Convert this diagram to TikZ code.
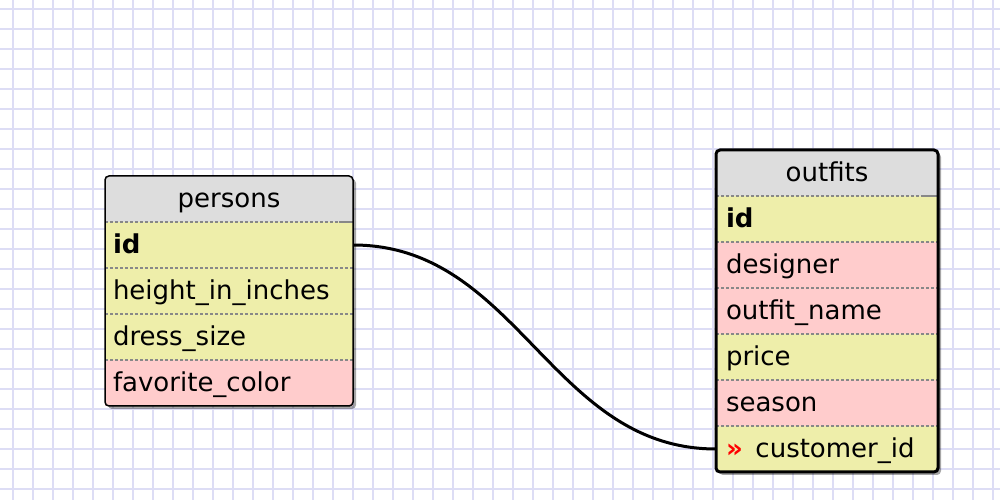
\documentclass[tikz,border=0pt]{standalone}
\usepackage{fontspec}
\newfontfamily\erfont{DejaVu Sans}
\usetikzlibrary{positioning,fit,backgrounds,shadows}
\definecolor{erGrid}{RGB}{221,221,245}
\definecolor{erHead}{RGB}{221,221,221}
\definecolor{erYellow}{RGB}{238,238,170}
\definecolor{erPink}{RGB}{255,204,204}
\definecolor{erSep}{RGB}{136,136,136}
\tikzset{
  er/row/.style={rectangle, inner xsep=8pt, inner ysep=0pt, outer sep=0pt,
                 minimum height=46pt, text height=24pt, text depth=6pt,
                 align=left, font=\erfont\fontsize{26}{30}\selectfont},
  er/head/.style={er/row, fill=erHead, align=center},
  er/yellow/.style={er/row, fill=erYellow},
  er/pink/.style={er/row, fill=erPink},
  er/sep/.style={draw=erSep, line width=2pt, dash pattern=on 2.5pt off 2.5pt},
  er/stub/.style={draw=erSep, line width=2pt},
  er/frame/.style={draw=black, rounded corners=4pt, inner sep=0pt},
  er/shade/.style={er/frame, draw=none, fill=white,
                   drop shadow={shadow xshift=3pt, shadow yshift=-3pt,
                                opacity=0.35, fill=black}},
  er/grid/.style={draw=erGrid, line width=1.5pt},
  er/link/.style={line width=3pt, draw=black},
}

\begin{document}
\begin{tikzpicture}[x=1pt, y=1pt]
  \useasboundingbox (0,0) rectangle (1000,500);

  % ---------------- background grid ----------------
  \begin{scope}[on background layer]
    \fill[white] (0,0) rectangle (1000,500);
    \foreach \x in {13,33,...,993}
      \draw[er/grid] (\x,0) -- (\x,500);
    \foreach \y in {11,31,...,491}
      \draw[er/grid] (0,\y) -- (1000,\y);
  \end{scope}

  % ---------------- persons table ----------------
  \begin{scope}[er/row/.append style={text width=232pt}]
    \node[er/head, anchor=north west] (persons) at (105,324) {persons};
    \node[er/yellow, below=0pt of persons] (persons-id) {\textbf{id}};
    \node[er/yellow, below=0pt of persons-id] (persons-height) {height\_in\_inches};
    \node[er/yellow, below=0pt of persons-height] (persons-dress) {dress\_size};
    \node[er/pink, below=0pt of persons-dress] (persons-color) {favorite\_color};
  \end{scope}
  \foreach \r in {persons,persons-id,persons-height,persons-dress}
    \draw[er/sep] (\r.south west) -- (\r.south east);
  \draw[er/stub] ([xshift=-14pt]persons.south east) -- (persons.south east);
  \begin{scope}[on background layer]
    \node[er/shade, fit=(persons)(persons-color)] {};
  \end{scope}
  \node[er/frame, line width=1.5pt, fit=(persons)(persons-color)] (persons-box) {};

  % ---------------- outfits table ----------------
  \begin{scope}[er/row/.append style={text width=202pt, inner xsep=10pt}]
    \node[er/head, anchor=north west] (outfits) at (716,350) {outfits};
    \node[er/yellow, below=0pt of outfits] (outfits-id) {\textbf{id}};
    \node[er/pink, below=0pt of outfits-id] (outfits-designer) {designer};
    \node[er/pink, below=0pt of outfits-designer] (outfits-name) {outfit\_name};
    \node[er/yellow, below=0pt of outfits-name] (outfits-price) {price};
    \node[er/pink, below=0pt of outfits-price] (outfits-season) {season};
    \node[er/yellow, below=0pt of outfits-season] (outfits-customer)
      {{\color{red}\bfseries »}\hspace{4pt}\ customer\_id};
  \end{scope}
  \foreach \r in {outfits,outfits-id,outfits-designer,outfits-name,outfits-price,outfits-season}
    \draw[er/sep] (\r.south west) -- (\r.south east);
  \draw[er/stub] ([xshift=-14pt]outfits.south east) -- (outfits.south east);
  \begin{scope}[on background layer]
    \node[er/shade, fit=(outfits)(outfits-customer)] {};
  \end{scope}
  \node[er/frame, line width=3pt, fit=(outfits)(outfits-customer)] (outfits-box) {};

  % ---------------- relation ----------------
  \draw[er/link] (persons-id.east) .. controls +(165,0) and +(-165,0) .. (outfits-customer.west);

\end{tikzpicture}
\end{document}
